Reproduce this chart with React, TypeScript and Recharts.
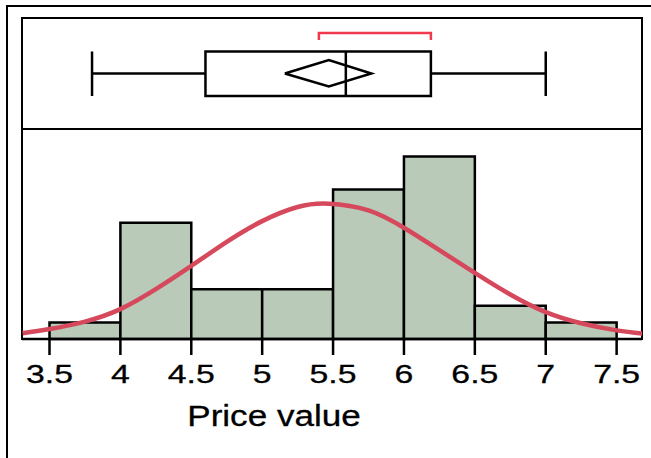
import React from 'react';
import {
  ComposedChart,
  Line,
  XAxis,
  YAxis,
  ReferenceArea,
  ReferenceLine,
} from 'recharts';

// histogram bins (Price value) and counts
const binStarts = [3.5, 4, 4.5, 5, 5.5, 6, 6.5, 7];
const binWidth = 0.5;
const binCounts = [1, 7, 3, 3, 9, 11, 2, 1];

// fitted normal curve (count units)
const curveX = [3.31, 3.5, 3.75, 4, 4.25, 4.5, 4.75, 5, 5.25, 5.47, 5.75, 6, 6.25, 6.5, 6.75, 7, 7.25, 7.5, 7.68];
const curveY = [0.35, 0.6, 1.05, 1.8, 3.0, 4.4, 5.85, 7.1, 7.95, 8.15, 7.75, 6.7, 5.35, 3.98, 2.68, 1.62, 0.95, 0.52, 0.33];

// box plot summary
const whiskerLow = 3.8;
const quartile1 = 4.6;
const median = 5.59;
const quartile3 = 6.19;
const whiskerHigh = 7.0;
const mean = 5.47;
const meanCiLow = 5.16;
const meanCiHigh = 5.77;
const shortestHalf = [5.4, 6.19];

const tickValues = [3.5, 4, 4.5, 5, 5.5, 6, 6.5, 7, 7.5];

// layout
const W = 651;
const H = 458;
const X_DOMAIN: [number, number] = [3.306, 7.679];
const FONT = '"Liberation Sans", Arial, sans-serif';
// vertical levels in the box plot panel (0 = panel bottom, 111 = panel top)
const BOX_LO = 33;
const BOX_HI = 77.5;
const BOX_MID = 55.5;
const DIA_LO = 42.5;
const DIA_HI = 69;
const BRK_END = 89;
const BRK_TOP = 96;

const curveData = curveX.map((x, i) => ({ x, y: curveY[i] }));
const diamondData = [
  { x: meanCiLow, y: BOX_MID },
  { x: mean, y: DIA_HI },
  { x: meanCiHigh, y: BOX_MID },
  { x: mean, y: DIA_LO },
  { x: meanCiLow, y: BOX_MID },
];
const bracketData = [
  { x: shortestHalf[0], y: BRK_END },
  { x: shortestHalf[0], y: BRK_TOP },
  { x: shortestHalf[1], y: BRK_TOP },
  { x: shortestHalf[1], y: BRK_END },
];

const PriceTick = (props: any) => {
  const { x, y, payload } = props;
  return (
    <g transform={`translate(${x},${y})`}>
      <text transform="scale(1.3,1)" x={0} y={0} dy={28} textAnchor="middle" fontFamily={FONT} fontSize={26} fill="#000" stroke="#000" strokeWidth={0.3}>
        {payload.value}
      </text>
    </g>
  );
};

const AxisTitle = () => (
  <g transform="translate(274,426)">
    <text transform="scale(1.21,1)" x={0} y={0} textAnchor="middle" fontFamily={FONT} fontSize={29} fill="#000" stroke="#000" strokeWidth={0.3}>
      Price value
    </text>
  </g>
);

const stroke = { stroke: '#000', strokeWidth: 2.5 };

export default function App() {
  return (
    <div style={{ position: 'absolute', left: 0, top: 0, width: W, height: H, overflow: 'hidden', background: '#fff' }}>
      {/* outer frame */}
      <div style={{ position: 'absolute', left: 6, top: 5, width: 700, height: 500, borderLeft: '2px solid #000', borderTop: '2px solid #000' }} />
      {/* inner frame + divider */}
      <div style={{ position: 'absolute', left: 21, top: 17, width: 622, height: 323, border: '2px solid #000', boxSizing: 'border-box' }} />
      <div style={{ position: 'absolute', left: 21, top: 128, width: 622, height: 2, background: '#000' }} />

      {/* histogram */}
      <div style={{ position: 'absolute', left: 0, top: 0 }}>
        <ComposedChart width={W} height={H} data={curveData} margin={{ top: 129, right: 9, bottom: 39, left: 22 }}>
          <XAxis
            dataKey="x"
            type="number"
            domain={X_DOMAIN}
            allowDataOverflow
            ticks={tickValues}
            interval={0}
            height={80}
            tickSize={16}
            tickMargin={0}
            axisLine={stroke}
            tickLine={stroke}
            tick={<PriceTick />}
            label={{ content: () => <AxisTitle /> }}
          />
          <YAxis hide type="number" domain={[0, 12.65]} allowDataOverflow />
          {binStarts.map((b, i) => (
            <ReferenceArea
              key={b}
              x1={b}
              x2={b + binWidth}
              y1={0}
              y2={binCounts[i]}
              fill="#b9cab9"
              fillOpacity={1}
              stroke="#000"
              strokeWidth={2.5}
              ifOverflow="visible"
            />
          ))}
          <Line
            type="natural"
            dataKey="y"
            stroke="#d6495c"
            strokeWidth={4.5}
            dot={false}
            activeDot={false}
            isAnimationActive={false}
          />
        </ComposedChart>
      </div>

      {/* box plot */}
      <div style={{ position: 'absolute', left: 0, top: 0 }}>
        <ComposedChart width={W} height={130} margin={{ top: 18, right: 9, bottom: 1, left: 22 }}>
          <XAxis hide dataKey="x" type="number" domain={X_DOMAIN} allowDataOverflow />
          <YAxis hide type="number" domain={[0, 111]} allowDataOverflow />
          <ReferenceLine segment={[{ x: whiskerLow, y: BOX_MID }, { x: quartile1, y: BOX_MID }]} {...stroke} />
          <ReferenceLine segment={[{ x: quartile3, y: BOX_MID }, { x: whiskerHigh, y: BOX_MID }]} {...stroke} />
          <ReferenceLine segment={[{ x: whiskerLow, y: BOX_LO }, { x: whiskerLow, y: BOX_HI }]} {...stroke} />
          <ReferenceLine segment={[{ x: whiskerHigh, y: BOX_LO }, { x: whiskerHigh, y: BOX_HI }]} {...stroke} />
          <ReferenceArea x1={quartile1} x2={quartile3} y1={BOX_LO} y2={BOX_HI} fill="none" stroke="#000" strokeWidth={2.5} />
          <ReferenceLine segment={[{ x: median, y: BOX_LO }, { x: median, y: BOX_HI }]} {...stroke} />
          <Line
            data={diamondData}
            type="linear"
            dataKey="y"
            stroke="#000"
            strokeWidth={2.5}
            dot={false}
            activeDot={false}
            isAnimationActive={false}
          />
          <Line
            data={bracketData}
            type="linear"
            dataKey="y"
            stroke="#f0384f"
            strokeWidth={2.5}
            dot={false}
            activeDot={false}
            isAnimationActive={false}
          />
        </ComposedChart>
      </div>
    </div>
  );
}
